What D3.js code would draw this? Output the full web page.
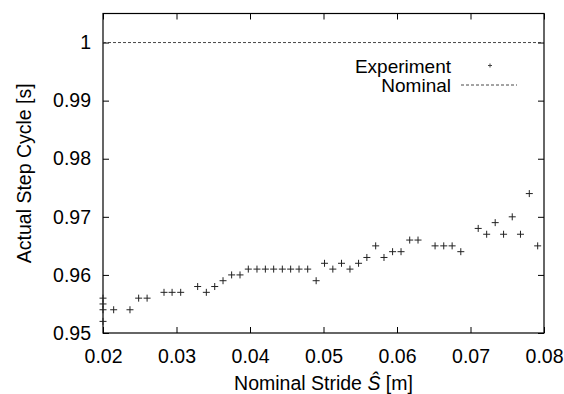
<!DOCTYPE html>
<html>
<head>
<meta charset="utf-8">
<script src="https://cdn.jsdelivr.net/npm/d3@7"></script>
<style>
  body { margin: 0; background: #fff; }
  text { font-family: "Liberation Sans", Arial, sans-serif; fill: #000; }
</style>
</head>
<body>
<div id="chart"></div>
<script>
// measured stride vs. step cycle
const strideX = [
  0.020, 0.020, 0.020, 0.020, 0.02145, 0.02367, 0.02485, 0.0260,
  0.0283, 0.0294, 0.03057, 0.03288, 0.03406, 0.0352, 0.03633, 0.0375,
  0.03864, 0.03977, 0.04095, 0.04209, 0.04322, 0.0444, 0.04553, 0.04667,
  0.04785, 0.0490, 0.05014, 0.05127, 0.05245, 0.0536, 0.05477, 0.0559,
  0.0571, 0.05823, 0.0594, 0.06055, 0.06173, 0.06286, 0.06518, 0.06636,
  0.0675, 0.06868, 0.07105, 0.0722, 0.07336, 0.0745, 0.07568, 0.0768,
  0.0780, 0.07914
];
const cycleY = [
  0.956, 0.955, 0.954, 0.952, 0.954, 0.954, 0.956, 0.956,
  0.957, 0.957, 0.957, 0.958, 0.957, 0.958, 0.959, 0.960,
  0.960, 0.961, 0.961, 0.961, 0.961, 0.961, 0.961, 0.961,
  0.961, 0.959, 0.962, 0.961, 0.962, 0.961, 0.962, 0.963,
  0.965, 0.963, 0.964, 0.964, 0.966, 0.966, 0.965, 0.965,
  0.965, 0.964, 0.968, 0.967, 0.969, 0.967, 0.970, 0.967,
  0.974, 0.965
];
const nominalY = 1.0;
const xTicks = [0.02, 0.03, 0.04, 0.05, 0.06, 0.07, 0.08];
const yTicks = [0.95, 0.96, 0.97, 0.98, 0.99, 1.0];
const legendLabels = ["Experiment", "Nominal"];

const W = 564, H = 394;
const margin = { top: 13.5, right: 20, bottom: 61, left: 103 };
const width = W - margin.left - margin.right;
const height = H - margin.top - margin.bottom;

const x = d3.scaleLinear().domain([0.02, 0.08]).range([0, width]);
const y = d3.scaleLinear().domain([0.95, 1.005]).range([height, 0]);

const svg = d3.select("#chart").append("svg")
  .attr("width", W)
  .attr("height", H);

const g = svg.append("g")
  .attr("transform", "translate(" + margin.left + "," + margin.top + ")");

const fmtX = d3.format(".2f");
const fmtY = d => d === 1 ? "1" : d3.format(".2f")(d);

// axes with inward ticks
const xAxis = g.append("g")
  .attr("transform", "translate(0," + height + ")")
  .call(d3.axisBottom(x).tickValues(xTicks).tickFormat(fmtX).tickSizeInner(-6).tickSizeOuter(0).tickPadding(16));
const xTop = g.append("g")
  .call(d3.axisTop(x).tickValues(xTicks).tickFormat("").tickSizeInner(-6).tickSizeOuter(0));
const yAxis = g.append("g")
  .call(d3.axisLeft(y).tickValues(yTicks).tickFormat(fmtY).tickSizeInner(-6).tickSizeOuter(0).tickPadding(12));
const yRight = g.append("g")
  .attr("transform", "translate(" + width + ",0)")
  .call(d3.axisRight(y).tickValues(yTicks).tickFormat("").tickSizeInner(-6).tickSizeOuter(0));

[xAxis, xTop, yAxis, yRight].forEach(a => {
  a.select(".domain").remove();
  a.selectAll("line").attr("stroke", "#000").attr("stroke-width", 1);
  a.selectAll("text").style("font-size", "19.5px").attr("fill", "#000");
});

// frame
g.append("rect")
  .attr("x", 0).attr("y", 0)
  .attr("width", width).attr("height", height)
  .attr("fill", "none")
  .attr("stroke", "#000")
  .attr("stroke-width", 1.2);

// nominal line
g.append("line")
  .attr("x1", x(0.02)).attr("x2", x(0.08))
  .attr("y1", y(nominalY)).attr("y2", y(nominalY))
  .attr("stroke", "#333")
  .attr("stroke-width", 0.9)
  .attr("stroke-dasharray", "3,2");

// experiment points
const pts = strideX.map((v, i) => ({ x: v, y: cycleY[i] }));
g.selectAll(".pt")
  .data(pts)
  .enter()
  .append("path")
  .attr("class", "pt")
  .attr("transform", d => "translate(" + x(d.x) + "," + y(d.y) + ")")
  .attr("d", "M-3.5,0H3.5M0,-3.5V3.5")
  .attr("stroke", "#222")
  .attr("stroke-width", 1)
  .attr("fill", "none");

// legend
const leg = svg.append("g");
leg.selectAll("text")
  .data(legendLabels)
  .enter()
  .append("text")
  .attr("x", 451)
  .attr("y", (d, i) => 73 + i * 18.7)
  .attr("text-anchor", "end")
  .style("font-size", "19px")
  .text(d => d);
leg.append("path")
  .attr("transform", "translate(490,65.5)")
  .attr("d", "M-2,0H2M0,-2V2")
  .attr("stroke", "#444")
  .attr("stroke-width", 1);
leg.append("line")
  .attr("x1", 461).attr("x2", 517)
  .attr("y1", 85).attr("y2", 85)
  .attr("stroke", "#333")
  .attr("stroke-width", 0.9)
  .attr("stroke-dasharray", "3,2");

// axis titles
svg.append("text")
  .attr("x", margin.left + width / 2)
  .attr("y", 390)
  .attr("text-anchor", "middle")
  .style("font-size", "19.5px")
  .html('Nominal Stride <tspan font-style="italic">Ŝ</tspan> [m]');

svg.append("text")
  .attr("transform", "translate(31," + (margin.top + height / 2) + ") rotate(-90)")
  .attr("text-anchor", "middle")
  .style("font-size", "19.5px")
  .text("Actual Step Cycle [s]");
</script>
</body>
</html>
